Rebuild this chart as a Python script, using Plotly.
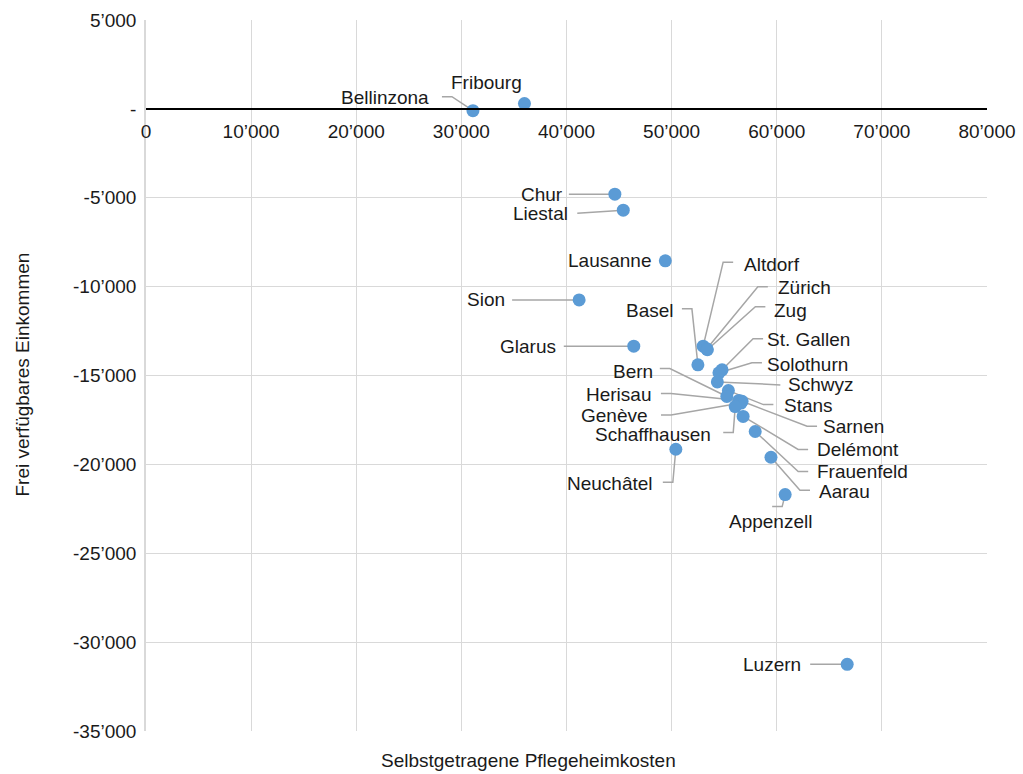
import plotly.graph_objects as go

# Gemeinden / Kantonshauptorte
orte = ["Bellinzona", "Fribourg", "Chur", "Liestal", "Lausanne", "Sion", "Glarus",
        "Basel", "Altdorf", "Zürich", "Zug", "St. Gallen", "Solothurn", "Schwyz",
        "Stans", "Bern", "Herisau", "Sarnen", "Genève", "Schaffhausen", "Delémont",
        "Frauenfeld", "Aarau", "Appenzell", "Neuchâtel", "Luzern"]

# Selbstgetragene Pflegeheimkosten (CHF)
kosten = [31100, 36000, 44600, 45400, 49400, 41200, 46400,
          52500, 53000, 53350, 53400, 54800, 54500, 54350,
          55400, 55250, 56400, 56700, 56600, 56050, 56800,
          57950, 59450, 60800, 50400, 66700]

# Frei verfügbares Einkommen (CHF)
einkommen = [-100, 300, -4800, -5700, -8550, -10750, -13350,
             -14400, -13350, -13500, -13550, -14680, -14850, -15360,
             -15850, -16180, -16400, -16450, -16550, -16750, -17300,
             -18150, -19600, -21700, -19150, -31250]

x_ticks = list(range(0, 80001, 10000))
x_ticktext = ["0", "10’000", "20’000", "30’000", "40’000", "50’000", "60’000", "70’000", "80’000"]
y_ticks = list(range(-35000, 5001, 5000))
y_ticktext = ["-35’000", "-30’000", "-25’000", "-20’000", "-15’000", "-10’000", "-5’000", "-", "5’000"]

# Label placement in screen pixels relative to the marker:
# (text centre dx, dy, leader end ex, ey or None); dy/ey positive = down
label_pos = {
    "Bellinzona": (-88, -13, (-31, -14)),
    "Fribourg": (-38, -21, None),
    "Chur": (-73, 0, (-46, 0)),
    "Liestal": (-83, 3, (-46, 3)),
    "Lausanne": (-56, 0, None),
    "Sion": (-93, 0, (-67, 0)),
    "Glarus": (-106, 0, (-70, 0)),
    "Basel": (-48, -54, (-16, -56)),
    "Altdorf": (69, -82, (30, -84)),
    "Zürich": (98, -61, (61, -62)),
    "Zug": (83, -39, (58, -43)),
    "St. Gallen": (86, -30, (41, -31)),
    "Solothurn": (89, -8, (43, -10)),
    "Schwyz": (103, 3, (63, 3)),
    "Stans": (80, 15, (45, 14)),
    "Bern": (-94, -25, (-67, -28)),
    "Herisau": (-120, -6, (-78, -7)),
    "Sarnen": (111, 25, (75, 25)),
    "Genève": (-127, 12, (-80, 12)),
    "Schaffhausen": (-82, 28, (-12, 26)),
    "Delémont": (115, 33, (65, 33)),
    "Frauenfeld": (107, 40, (53, 40)),
    "Aarau": (74, 34, (39, 33)),
    "Appenzell": (-15, 27, (-13, 12)),
    "Neuchâtel": (-66, 34, (-13, 33)),
    "Luzern": (-75, 0, (-37, 0)),
}

FONT = "Liberation Sans, Arial, sans-serif"
TXT = "#1a1a1a"
GRID = "#d9d9d9"

fig = go.Figure()
fig.add_trace(go.Scatter(
    x=kosten, y=einkommen, mode="markers", text=orte,
    marker=dict(color="#5b9bd5", size=13),
    hoverinfo="text+x+y", showlegend=False,
))

shapes = []
annotations = []
for name, xv, yv in zip(orte, kosten, einkommen):
    dx, dy, lead = label_pos[name]
    annotations.append(dict(
        x=xv, y=yv, xref="x", yref="y", text=name, showarrow=False,
        xshift=dx, yshift=-dy, font=dict(family=FONT, size=19, color=TXT),
    ))
    if lead is not None:
        ex, ey = lead
        if abs(ey) < 5:
            path = f"M{ex},{-ey} L0,0"
        else:
            elbow = ex + (10 if ex < 0 else -10)
            path = f"M{ex},{-ey} L{elbow},{-ey} L0,0"
        shapes.append(dict(
            type="path", xref="x", yref="y", xsizemode="pixel", ysizemode="pixel",
            xanchor=xv, yanchor=yv, path=path, layer="between",
            line=dict(color="#a6a6a6", width=1.5),
        ))

# axis titles
annotations.append(dict(
    text="Selbstgetragene Pflegeheimkosten", xref="paper", yref="paper",
    x=0.4554, y=-0.0408, showarrow=False, xanchor="center", yanchor="middle",
    font=dict(family=FONT, size=19, color=TXT),
))
annotations.append(dict(
    text="Frei verfügbares Einkommen", xref="paper", yref="paper",
    x=-0.1474, y=0.5014, showarrow=False, textangle=-90,
    xanchor="center", yanchor="middle",
    font=dict(family=FONT, size=19, color=TXT),
))

fig.update_layout(
    width=1023, height=774,
    margin=dict(l=146, r=36, t=20, b=43, autoexpand=False),
    paper_bgcolor="white", plot_bgcolor="white",
    shapes=shapes, annotations=annotations,
    xaxis=dict(
        range=[0, 80000], tickvals=x_ticks, ticktext=x_ticktext,
        showgrid=True, gridcolor=GRID, gridwidth=1.3, zeroline=False,
        showline=True, linecolor="black", linewidth=1.5,
        anchor="free", position=0.875, automargin=False,
        ticks="outside", ticklen=6, tickcolor="rgba(0,0,0,0)",
        tickfont=dict(family=FONT, size=19, color=TXT),
        fixedrange=True,
    ),
    yaxis=dict(
        range=[-35000, 5000], tickvals=y_ticks, ticktext=y_ticktext,
        showgrid=True, gridcolor=GRID, gridwidth=1.3, zeroline=False,
        showline=True, linecolor=GRID, linewidth=1.5, automargin=False,
        ticks="outside", ticklen=4, tickcolor="rgba(0,0,0,0)",
        tickfont=dict(family=FONT, size=19, color=TXT),
        fixedrange=True,
    ),
)

fig.write_html("out.html")
